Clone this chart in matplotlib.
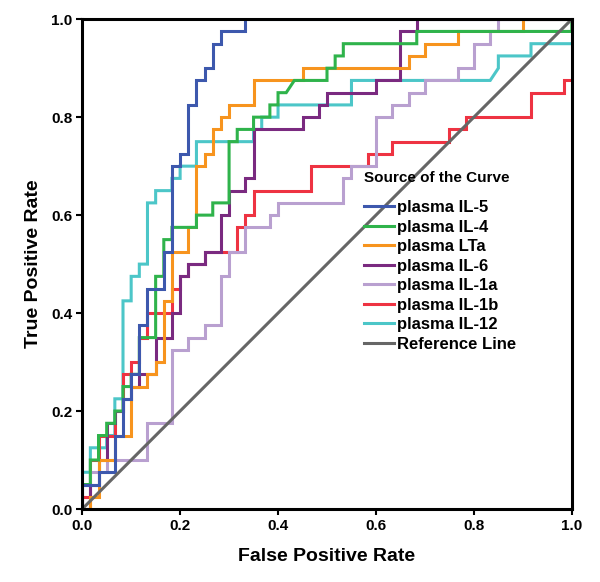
import numpy as np
import matplotlib
matplotlib.use("Agg")
import matplotlib.pyplot as plt

plt.rcParams['font.family'] = ['Liberation Sans', 'DejaVu Sans']
plt.rcParams['font.weight'] = 'bold'

# ROC step paths, as (false positives, true positives) counts
N_NEG = 60
N_POS = 40

il5 = [(0, 0), (0, 2), (2, 2), (2, 3), (4, 3), (4, 6), (5, 6), (5, 9), (6, 9), (6, 11), (7, 11),
       (7, 15), (8, 15), (8, 18), (10, 18), (10, 21), (11, 21), (11, 28), (12, 28), (12, 29),
       (13, 29), (13, 33), (14, 33), (14, 35), (15, 35), (15, 36), (16, 36), (16, 38), (17, 38),
       (17, 39), (20, 39), (20, 40), (60, 40)]

il4 = [(0, 0), (0, 2), (1, 2), (1, 4), (2, 4), (2, 6), (3, 6), (3, 7), (4, 7), (4, 8), (5, 8),
       (5, 10), (6, 10), (6, 11), (7, 11), (7, 14), (9, 14), (9, 19), (10, 19), (10, 22), (11, 22),
       (11, 23), (14, 23), (14, 24), (16, 24), (16, 25), (18, 25), (18, 30), (19, 30), (19, 31),
       (21, 31), (21, 32), (23, 32), (23, 33), (24, 33), (24, 34), (25, 34), (26, 35), (30, 35),
       (30, 36), (31, 36), (31, 37), (32, 37), (32, 38), (41, 38), (41, 39), (60, 39), (60, 40)]

lta = [(0, 0), (1, 0), (1, 1), (2, 1), (2, 4), (4, 4), (4, 6), (6, 6), (6, 10), (8, 10), (8, 11),
       (9, 11), (9, 12), (10, 12), (10, 17), (11, 17), (11, 21), (13, 21), (13, 23), (14, 23),
       (14, 28), (15, 28), (15, 29), (16, 29), (16, 31), (17, 31), (17, 32), (18, 32), (18, 33),
       (21, 33), (21, 35), (27, 35), (27, 36), (40, 36), (40, 37), (42, 37), (42, 38), (46, 38),
       (46, 39), (54, 39), (54, 40), (60, 40)]

il6 = [(0, 0), (1, 0), (1, 2), (2, 2), (2, 4), (3, 4), (3, 7), (4, 7), (4, 8), (5, 8), (5, 9),
       (6, 9), (6, 10), (7, 10), (7, 11), (9, 11), (9, 14), (11, 14), (11, 16), (12, 16), (12, 19),
       (13, 19), (13, 20), (15, 20), (15, 21), (17, 21), (17, 24), (18, 24), (18, 26), (20, 26),
       (20, 27), (21, 27), (21, 31), (27, 31), (27, 32), (29, 32), (29, 33), (30, 33), (30, 34),
       (36, 34), (36, 35), (39, 35), (39, 39), (41, 39), (41, 40), (60, 40)]

il1a = [(0, 0), (0, 2), (1, 2), (1, 3), (3, 3), (3, 4), (8, 4), (8, 7), (11, 7), (11, 13),
        (13, 13), (13, 14), (15, 14), (15, 15), (17, 15), (17, 19), (18, 19), (18, 21), (20, 21),
        (20, 23), (23, 23), (23, 24), (24, 24), (24, 25), (32, 25), (32, 27), (33, 27), (33, 28),
        (36, 28), (36, 32), (38, 32), (38, 33), (40, 33), (40, 34), (42, 34), (42, 35), (46, 35),
        (46, 36), (48, 36), (48, 38), (50, 38), (50, 39), (51, 39), (51, 40), (60, 40)]

il1b = [(0, 0), (0, 1), (1, 1), (1, 4), (2, 4), (2, 6), (4, 6), (4, 8), (5, 8), (5, 11), (6, 11),
        (6, 12), (7, 12), (7, 14), (8, 14), (8, 16), (11, 16), (11, 18), (12, 18), (12, 19),
        (13, 19), (13, 20), (15, 20), (15, 21), (19, 21), (19, 23), (20, 23), (20, 24), (21, 24),
        (21, 26), (28, 26), (28, 28), (35, 28), (35, 29), (38, 29), (38, 30), (45, 30), (45, 31),
        (47, 31), (47, 32), (55, 32), (55, 34), (59, 34), (59, 35), (60, 35)]

il12 = [(0, 0), (0, 3), (1, 3), (1, 5), (3, 5), (3, 6), (4, 6), (4, 9), (5, 9), (5, 17), (6, 17),
        (6, 19), (7, 19), (7, 20), (8, 20), (8, 25), (9, 25), (9, 26), (11, 26), (11, 27), (12, 27),
        (12, 28), (14, 28), (14, 30), (21, 30), (21, 31), (22, 31), (22, 32), (24, 32), (24, 33),
        (33, 33), (33, 35), (50, 35), (51, 36), (51, 37), (55, 37), (55, 38), (60, 38)]

labels = ["plasma IL-5", "plasma IL-4", "plasma LTa", "plasma IL-6",
          "plasma IL-1a", "plasma IL-1b", "plasma IL-12"]
colors = ["#3d58ad", "#2fb34b", "#f7941e", "#7a2a80", "#b9a0d0", "#ee3342", "#4cc6c8"]
curves = [il5, il4, lta, il6, il1a, il1b, il12]

fig = plt.figure(figsize=(6, 5.82), dpi=100)
ax = fig.add_axes([0.137, 0.1254, 0.816, 0.8416])

# draw in reverse so IL-5 ends up on top
for pts, lab, col in reversed(list(zip(curves, labels, colors))):
    fp = np.array([p[0] for p in pts]) / N_NEG
    tp = np.array([p[1] for p in pts]) / N_POS
    ax.plot(fp, tp, color=col, lw=2.2, label=lab, solid_joinstyle='miter')

ax.plot([0, 1], [0, 1], color="#666666", lw=2.2, label="Reference Line")

ax.set_xlim(0, 1)
ax.set_ylim(0, 1)
ticks = [0.0, 0.2, 0.4, 0.6, 0.8, 1.0]
ax.set_xticks(ticks)
ax.set_yticks(ticks)
ax.set_xticklabels([f"{t:.1f}" for t in ticks], fontsize=11, fontweight='bold')
ax.set_yticklabels([f"{t:.1f}" for t in ticks], fontsize=11, fontweight='bold')
ax.tick_params(direction='out', length=4, width=1.5, color='black', pad=3)
for s in ax.spines.values():
    s.set_linewidth(2.2)
    s.set_color('black')

ax.set_xlabel("False Positive Rate", fontsize=14, fontweight='bold', labelpad=11)
ax.set_ylabel("True Positive Rate", fontsize=14, fontweight='bold', labelpad=7)

handles, labs = ax.get_legend_handles_labels()
order = labels + ["Reference Line"]
hmap = dict(zip(labs, handles))
leg = ax.legend([hmap[l] for l in order], order, loc='upper left',
                bbox_to_anchor=(0.576, 0.69), frameon=False, title="Source of the Curve",
                prop={'weight': 'bold', 'size': 12}, handlelength=1.8, handletextpad=0.15,
                labelspacing=0.27, borderpad=0, borderaxespad=0)
leg.get_title().set_fontweight('bold')
leg.get_title().set_fontsize(11)
leg._legend_box.align = "left"
leg._legend_box.sep = 11

fig.savefig("out.png", dpi=100)
